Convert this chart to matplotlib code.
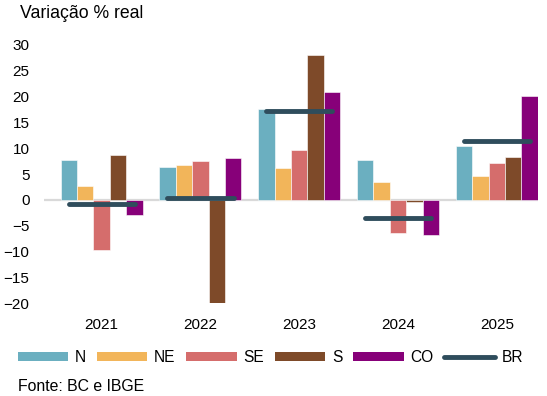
import numpy as np
import matplotlib.pyplot as plt
from matplotlib.patches import Patch
from matplotlib.lines import Line2D

plt.rcParams['font.family'] = ['Liberation Sans', 'DejaVu Sans']

years = ['2021', '2022', '2023', '2024', '2025']
regions = ['N', 'NE', 'SE', 'S', 'CO']
n_vals = [7.7, 6.3, 17.5, 7.7, 10.4]
ne_vals = [2.7, 6.8, 6.2, 3.4, 4.7]
se_vals = [-9.7, 7.5, 9.7, -6.4, 7.1]
s_vals = [8.7, -20.0, 28.0, -0.4, 8.3]
co_vals = [-2.9, 8.1, 20.8, -6.9, 20.2]
br_vals = [-0.8, 0.3, 17.3, -3.6, 11.4]
colors = ['#6BAFC0', '#F2B55A', '#D56D6C', '#7E4A29', '#870079']
br_color = '#2F4D5C'

series = [n_vals, ne_vals, se_vals, s_vals, co_vals]

fig = plt.figure(figsize=(5.47, 3.96), dpi=100)
ax = fig.add_axes([0.0804, 0.2348, 0.9031, 0.6516])

x = np.arange(len(years))
w = 0.166
for i, (vals, c) in enumerate(zip(series, colors)):
    ax.bar(x + (i - 2) * w, vals, width=w, color=c, edgecolor='white',
           linewidth=0.4, zorder=2)

ax.axhline(0, color='#D9D9D9', lw=1.6, zorder=1)

# national average as a short horizontal stroke over each group
for xi, v in zip(x, br_vals):
    ax.plot([xi - 0.335, xi + 0.335], [v, v], color=br_color, lw=3.5,
            solid_capstyle='round', zorder=3)

ax.set_xlim(-0.584, 4.416)
ax.set_ylim(-20, 30)
ax.set_yticks(np.arange(-20, 31, 5))
ax.set_xticks(x)
ax.set_xticklabels(years)
ax.tick_params(axis='both', length=0, labelsize=11, colors='black')
ax.tick_params(axis='y', pad=10.5)
ax.tick_params(axis='x', pad=10.5)
for sp in ax.spines.values():
    sp.set_visible(False)

fig.text(0.036, 0.965, 'Variação % real', fontsize=12.7, va='center')

handles = [Patch(facecolor=c, edgecolor='none') for c in colors]
handles.append(Line2D([0], [0], color=br_color, lw=3.5, solid_capstyle='round'))
fig.legend(handles, regions + ['BR'], loc='center left',
           bbox_to_anchor=(0.032, 0.0977), ncol=6, frameon=False, fontsize=11.2,
           handlelength=3.27, handleheight=0.53, handletextpad=0.42,
           columnspacing=0.68, borderaxespad=0, borderpad=0)

fig.text(0.0335, 0.0235, 'Fonte: BC e IBGE', fontsize=11.4, va='center')

fig.savefig('out.png', dpi=100)
